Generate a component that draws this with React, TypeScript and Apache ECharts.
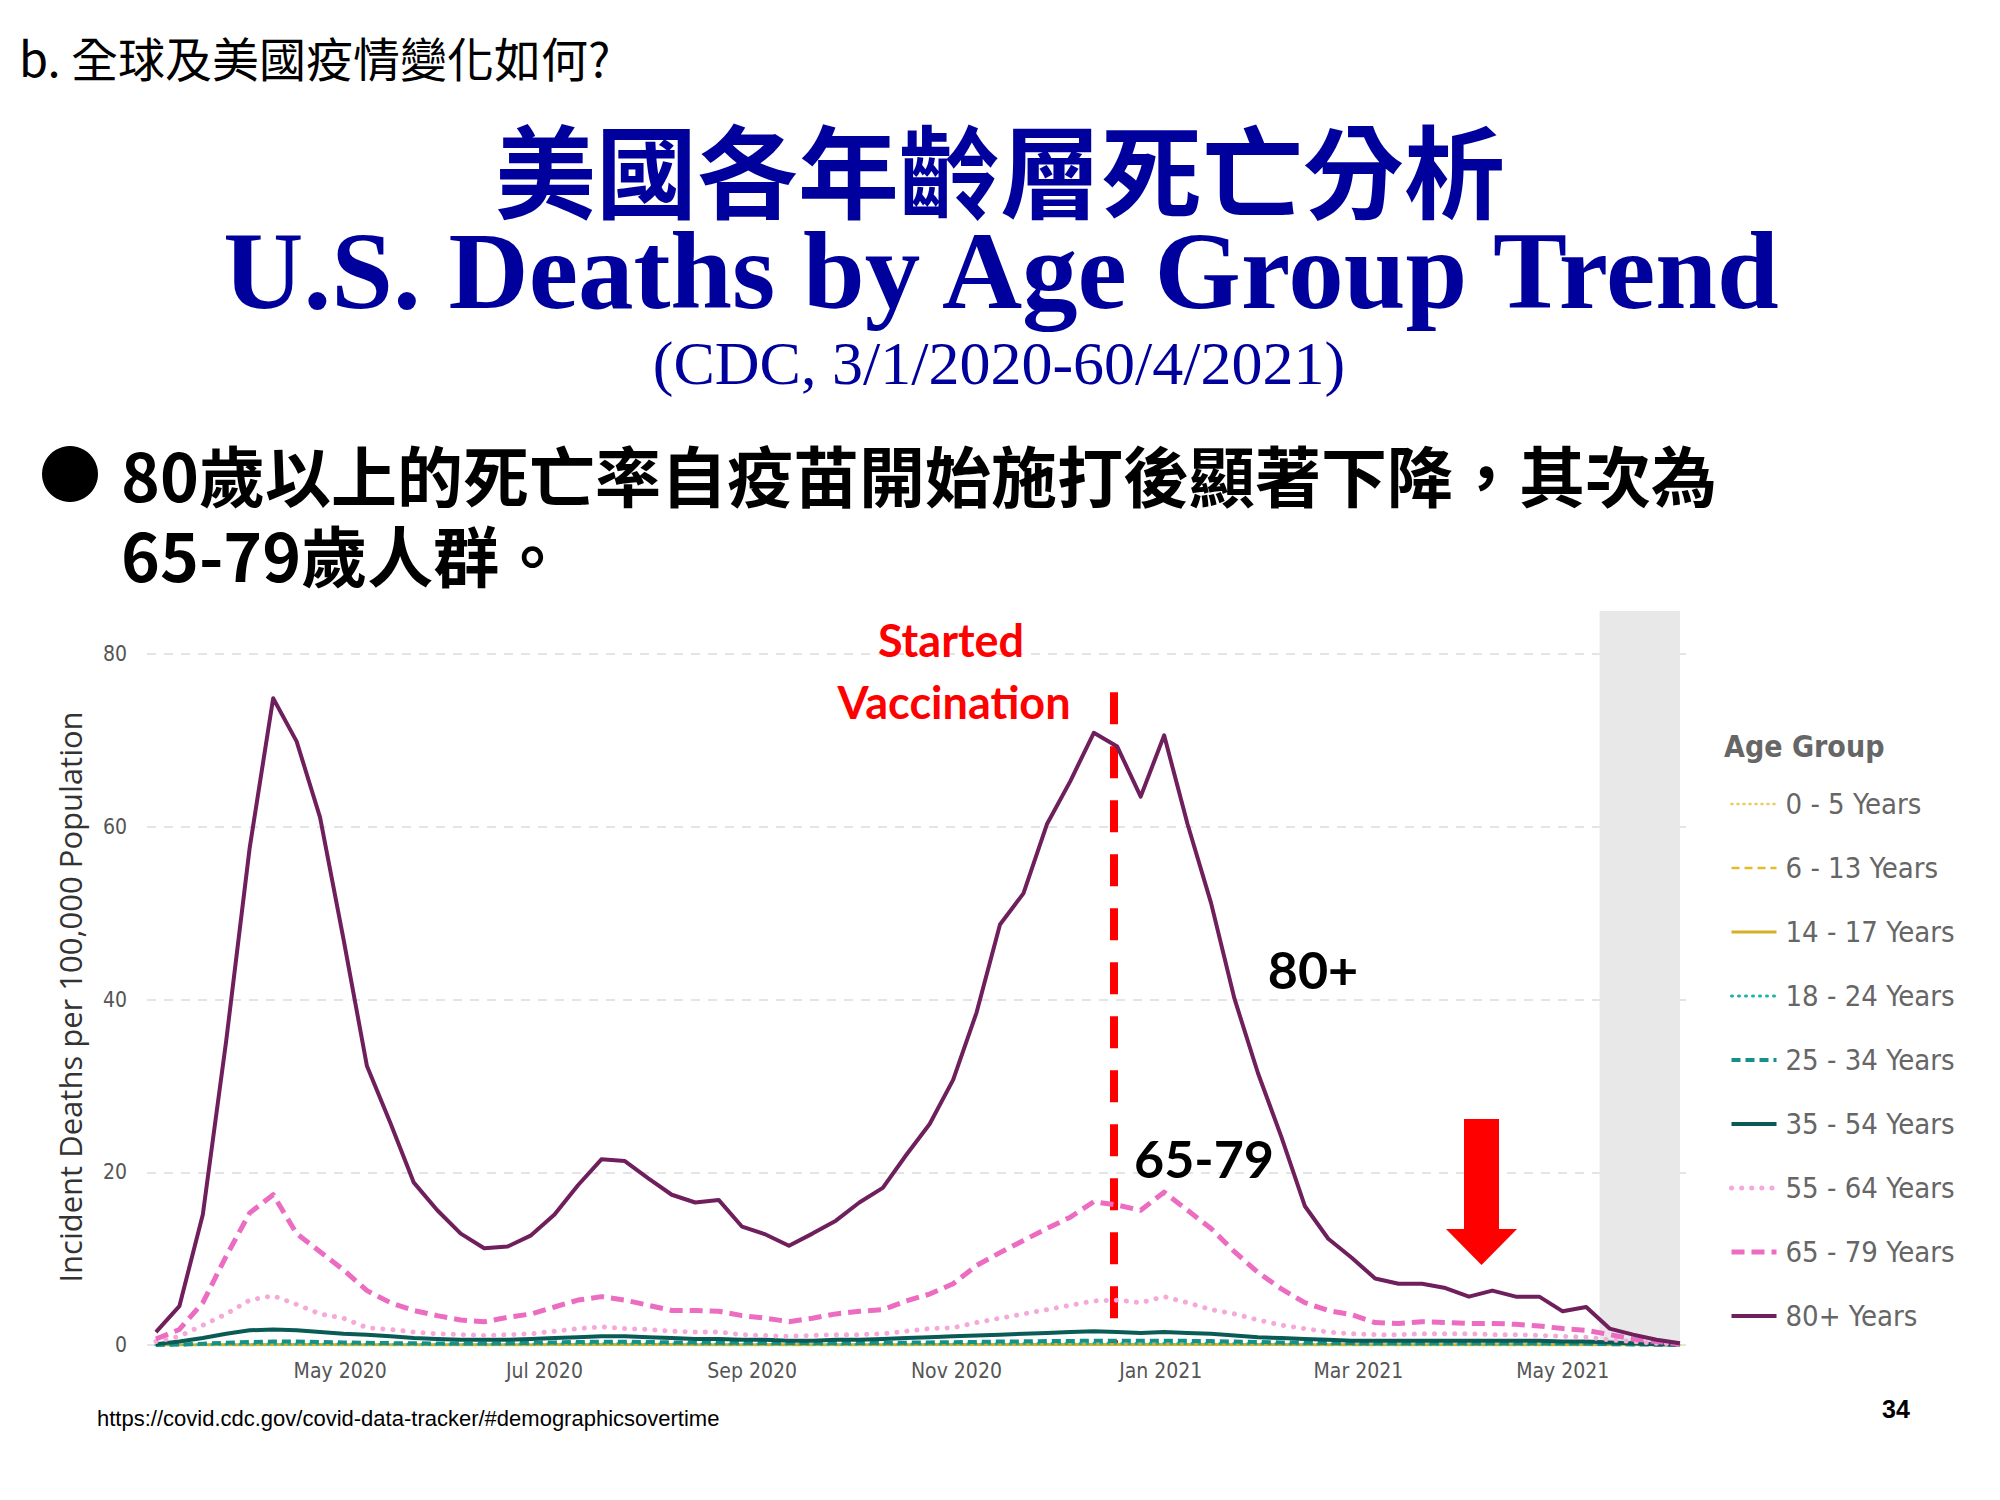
import React, { useEffect, useRef } from 'react';
import * as echarts from 'echarts';

// Weekly data points (week ending dates)
const weeks = [
  '2020-03-07', '2020-03-14', '2020-03-21', '2020-03-28', '2020-04-04', '2020-04-11', '2020-04-18', '2020-04-25',
  '2020-05-02', '2020-05-09', '2020-05-16', '2020-05-23', '2020-05-30', '2020-06-06', '2020-06-13', '2020-06-20',
  '2020-06-27', '2020-07-04', '2020-07-11', '2020-07-18', '2020-07-25', '2020-08-01', '2020-08-08', '2020-08-15',
  '2020-08-22', '2020-08-29', '2020-09-05', '2020-09-12', '2020-09-19', '2020-09-26', '2020-10-03', '2020-10-10',
  '2020-10-17', '2020-10-24', '2020-10-31', '2020-11-07', '2020-11-14', '2020-11-21', '2020-11-28', '2020-12-05',
  '2020-12-12', '2020-12-19', '2020-12-26', '2021-01-02', '2021-01-09', '2021-01-16', '2021-01-23', '2021-01-30',
  '2021-02-06', '2021-02-13', '2021-02-20', '2021-02-27', '2021-03-06', '2021-03-13', '2021-03-20', '2021-03-27',
  '2021-04-03', '2021-04-10', '2021-04-17', '2021-04-24', '2021-05-01', '2021-05-08', '2021-05-15', '2021-05-22',
  '2021-05-29', '2021-06-05',
];

const ageGroups = [
  '0 - 5 Years', '6 - 13 Years', '14 - 17 Years', '18 - 24 Years', '25 - 34 Years',
  '35 - 54 Years', '55 - 64 Years', '65 - 79 Years', '80+ Years',
];

const age0to5 = [
  0.0, 0.01, 0.01, 0.02, 0.02, 0.02, 0.02, 0.02, 0.02, 0.02, 0.01, 0.01, 0.01, 0.01, 0.01, 0.01,
  0.01, 0.02, 0.02, 0.02, 0.02, 0.02, 0.02, 0.02, 0.02, 0.01, 0.01, 0.01, 0.01, 0.01, 0.01, 0.01,
  0.02, 0.02, 0.02, 0.02, 0.02, 0.02, 0.02, 0.03, 0.03, 0.03, 0.03, 0.03, 0.03, 0.02, 0.02, 0.02,
  0.02, 0.02, 0.02, 0.02, 0.02, 0.02, 0.02, 0.02, 0.02, 0.02, 0.02, 0.02, 0.01, 0.01, 0.01, 0.01,
  0.0, 0.0,
];
const age6to13 = [
  0.0, 0.0, 0.01, 0.01, 0.01, 0.01, 0.01, 0.01, 0.01, 0.01, 0.01, 0.01, 0.01, 0.01, 0.01, 0.01,
  0.01, 0.01, 0.01, 0.01, 0.01, 0.01, 0.01, 0.01, 0.01, 0.01, 0.01, 0.01, 0.01, 0.01, 0.01, 0.01,
  0.01, 0.01, 0.01, 0.01, 0.01, 0.02, 0.02, 0.02, 0.02, 0.02, 0.02, 0.02, 0.02, 0.02, 0.02, 0.01,
  0.01, 0.01, 0.01, 0.01, 0.01, 0.01, 0.01, 0.01, 0.01, 0.01, 0.01, 0.01, 0.01, 0.01, 0.0, 0.0,
  0.0, 0.0,
];
const age14to17 = [
  0.0, 0.01, 0.02, 0.03, 0.04, 0.05, 0.05, 0.05, 0.04, 0.04, 0.03, 0.03, 0.03, 0.03, 0.03, 0.04,
  0.04, 0.05, 0.05, 0.05, 0.05, 0.05, 0.05, 0.04, 0.04, 0.04, 0.04, 0.04, 0.04, 0.04, 0.04, 0.04,
  0.04, 0.05, 0.05, 0.05, 0.06, 0.06, 0.06, 0.07, 0.07, 0.07, 0.07, 0.07, 0.07, 0.06, 0.06, 0.05,
  0.05, 0.04, 0.04, 0.04, 0.04, 0.04, 0.04, 0.04, 0.04, 0.04, 0.04, 0.04, 0.03, 0.03, 0.02, 0.02,
  0.01, 0.01,
];
const age18to24 = [
  0.0, 0.02, 0.05, 0.08, 0.11, 0.13, 0.13, 0.12, 0.11, 0.1, 0.09, 0.08, 0.08, 0.08, 0.09, 0.1,
  0.12, 0.14, 0.15, 0.16, 0.16, 0.15, 0.14, 0.13, 0.12, 0.12, 0.11, 0.11, 0.1, 0.1, 0.1, 0.11,
  0.11, 0.12, 0.13, 0.14, 0.15, 0.16, 0.17, 0.18, 0.19, 0.19, 0.18, 0.19, 0.18, 0.17, 0.16, 0.14,
  0.13, 0.12, 0.11, 0.1, 0.1, 0.1, 0.1, 0.1, 0.1, 0.1, 0.1, 0.1, 0.09, 0.08, 0.06, 0.04,
  0.03, 0.01,
];
const age25to34 = [
  0.0, 0.05, 0.15, 0.25, 0.35, 0.4, 0.4, 0.35, 0.3, 0.25, 0.22, 0.2, 0.18, 0.17, 0.18, 0.2,
  0.25, 0.3, 0.35, 0.38, 0.38, 0.35, 0.3, 0.28, 0.27, 0.25, 0.23, 0.22, 0.22, 0.23, 0.24, 0.25,
  0.27, 0.3, 0.33, 0.36, 0.4, 0.42, 0.45, 0.47, 0.5, 0.5, 0.48, 0.5, 0.48, 0.45, 0.4, 0.35,
  0.3, 0.27, 0.24, 0.22, 0.2, 0.2, 0.2, 0.2, 0.2, 0.2, 0.2, 0.2, 0.17, 0.16, 0.1, 0.07,
  0.04, 0.02,
];
const age35to54 = [
  0.1, 0.4, 0.8, 1.3, 1.7, 1.8, 1.7, 1.5, 1.3, 1.2, 1.0, 0.8, 0.7, 0.6, 0.6, 0.6,
  0.7, 0.8, 0.9, 1.0, 1.0, 0.9, 0.8, 0.7, 0.7, 0.6, 0.6, 0.5, 0.5, 0.6, 0.6, 0.7,
  0.8, 0.9, 1.0, 1.1, 1.2, 1.3, 1.4, 1.5, 1.6, 1.5, 1.4, 1.5, 1.4, 1.3, 1.1, 0.9,
  0.8, 0.7, 0.6, 0.5, 0.5, 0.5, 0.5, 0.5, 0.5, 0.5, 0.5, 0.5, 0.4, 0.4, 0.3, 0.2,
  0.1, 0.05,
];
const age55to64 = [
  0.4, 1.0, 2.3, 3.6, 5.2, 5.7, 4.7, 3.6, 3.1, 2.0, 1.8, 1.5, 1.3, 1.2, 1.1, 1.2,
  1.3, 1.6, 1.9, 2.1, 1.9, 1.8, 1.6, 1.5, 1.5, 1.2, 1.1, 1.0, 1.1, 1.2, 1.2, 1.3,
  1.6, 1.9, 2.0, 2.6, 3.1, 3.6, 4.1, 4.6, 5.1, 5.2, 4.9, 5.6, 4.9, 4.1, 3.6, 2.9,
  2.3, 1.9, 1.5, 1.3, 1.2, 1.2, 1.3, 1.3, 1.3, 1.2, 1.2, 1.1, 1.0, 0.9, 0.6, 0.4,
  0.2, 0.1,
];
const age65to79 = [
  0.7, 1.8, 4.9, 10.3, 15.3, 17.4, 12.9, 10.8, 8.7, 6.3, 4.9, 4.0, 3.4, 2.9, 2.7, 3.2,
  3.6, 4.4, 5.2, 5.6, 5.2, 4.6, 4.0, 4.0, 3.9, 3.4, 3.1, 2.7, 3.1, 3.6, 3.9, 4.1,
  5.1, 5.9, 7.1, 9.2, 10.7, 12.1, 13.5, 14.8, 16.6, 16.2, 15.6, 17.7, 15.6, 13.5, 10.8, 8.4,
  6.5, 4.9, 4.0, 3.5, 2.6, 2.5, 2.7, 2.6, 2.5, 2.5, 2.4, 2.2, 1.9, 1.7, 1.2, 0.7,
  0.4, 0.1,
];
const age80plus = [
  1.5, 4.5, 15.1, 35.3, 57.6, 74.9, 69.9, 61.1, 47.0, 32.3, 25.7, 18.8, 15.6, 12.9, 11.2, 11.4,
  12.7, 15.1, 18.5, 21.5, 21.3, 19.3, 17.4, 16.5, 16.8, 13.7, 12.8, 11.5, 12.9, 14.4, 16.5, 18.2,
  22.0, 25.6, 30.7, 38.5, 48.7, 52.3, 60.3, 65.3, 70.9, 69.3, 63.5, 70.6, 60.3, 51.2, 40.1, 31.5,
  24.1, 16.1, 12.3, 10.1, 7.7, 7.1, 7.1, 6.6, 5.6, 6.3, 5.6, 5.6, 3.9, 4.4, 1.9, 1.2,
  0.6, 0.2,
];

const yTicks = [0, 20, 40, 60, 80];
const monthNames = ['Jan', 'Feb', 'Mar', 'Apr', 'May', 'Jun', 'Jul', 'Aug', 'Sep', 'Oct', 'Nov', 'Dec'];
const xRange = ['2020-03-04T08:00:00', '2021-06-08'];
const vaccinationDate = '2020-12-18';
const vaccinationTop = 75.6;
const incompleteRange = ['2021-05-12', '2021-06-05'];

const NARROW = '"Liberation Sans Narrow", "DejaVu Sans Condensed", "Roboto", sans-serif';
const CJK = '"Noto Sans CJK TC", "Noto Sans CJK SC", sans-serif';
const SERIF = '"Liberation Serif", "DejaVu Serif", serif';

const seriesStyles = [
  { color: '#e8cc58', width: 2.5, type: [1, 5], cap: 'round' },
  { color: '#e3bc2c', width: 2.5, type: [8, 5], cap: 'butt' },
  { color: '#d6b024', width: 3, type: 'solid', cap: 'butt' },
  { color: '#1fb0a6', width: 3, type: [1, 6], cap: 'round' },
  { color: '#15918a', width: 4, type: [9, 5], cap: 'butt' },
  { color: '#0a5a55', width: 4, type: 'solid', cap: 'butt' },
  { color: '#f4a9d8', width: 5, type: [0.1, 10], cap: 'round' },
  { color: '#ec6cc1', width: 5, type: [13, 7], cap: 'butt' },
  { color: '#6e1f5c', width: 4, type: 'solid', cap: 'butt' },
];

const seriesValues = [age0to5, age6to13, age14to17, age18to24, age25to34, age35to54, age55to64, age65to79, age80plus];

export default function App() {
  const ref = useRef<HTMLDivElement>(null);

  useEffect(() => {
    if (!ref.current) return;
    const chart = echarts.init(ref.current, null, { renderer: 'svg' });

    const lineSeries: any[] = ageGroups.map((name, si) => {
      const st = seriesStyles[si];
      const s: any = {
        name,
        type: 'line',
        symbol: 'none',
        z: 5 + si,
        data: weeks.map((w, i) => [w, seriesValues[si][i]]),
        lineStyle: { color: st.color, width: st.width, type: st.type, cap: st.cap, join: 'round' },
        itemStyle: { color: st.color },
        emphasis: { disabled: true },
      };
      if (si === ageGroups.length - 1) {
        s.markLine = {
          silent: true,
          symbol: 'none',
          label: { show: false },
          lineStyle: { color: '#ff0000', width: 8, type: [32, 22], cap: 'butt' },
          data: [[{ coord: [vaccinationDate, vaccinationTop] }, { coord: [vaccinationDate, 0] }]],
        };
      }
      return s;
    });

    const option: any = {
      animation: false,
      backgroundColor: '#ffffff',
      grid: { left: 147, right: 310, top: 611, bottom: 155, containLabel: false },
      xAxis: {
        type: 'time',
        min: xRange[0],
        max: xRange[1],
        splitNumber: 8,
        axisLine: { show: false },
        axisTick: { show: false },
        splitLine: { show: false },
        minorTick: { show: false },
        axisLabel: {
          color: '#555555',
          fontFamily: NARROW,
          fontSize: 21,
          margin: 15,
          showMinLabel: false,
          showMaxLabel: false,
          hideOverlap: false,
          formatter: (val: number) => {
            const d = new Date(val);
            if (d.getDate() !== 1 || d.getMonth() % 2 !== 0) return '';
            return monthNames[d.getMonth()] + ' ' + d.getFullYear();
          },
        },
      },
      yAxis: {
        type: 'value',
        min: yTicks[0],
        max: 85,
        interval: yTicks[1] - yTicks[0],
        axisLine: { show: false },
        axisTick: { show: false },
        axisLabel: {
          color: '#555555',
          fontFamily: NARROW,
          fontSize: 21,
          margin: 20,
          showMaxLabel: false,
        },
        splitLine: {
          show: true,
          showMaxLine: false,
          lineStyle: { color: '#e4e4e4', width: 2, type: [9, 8] },
        },
      },
      legend: {
        orient: 'vertical',
        left: 1724,
        top: 782,
        itemWidth: 45,
        itemHeight: 20,
        itemGap: 30,
        data: ageGroups,
        selectedMode: false,
        itemStyle: { opacity: 0, borderWidth: 0 },
        lineStyle: { width: 'inherit' },
        textStyle: {
          color: '#666666',
          fontFamily: NARROW,
          fontSize: 29,
          lineHeight: 34,
          padding: [0, 0, 0, 4],
        },
      },
      graphic: [
        {
          type: 'text', x: 19, y: 56,
          style: { text: 'b. 全球及美國疫情變化如何?', fill: '#000000', fontFamily: CJK, fontSize: 47, lineHeight: 50, align: 'left', verticalAlign: 'middle' },
        },
        {
          type: 'text', x: 1000, y: 167,
          style: { text: '美國各年齡層死亡分析', fill: '#00009c', fontFamily: CJK, fontWeight: 'bold', fontSize: 101, lineHeight: 88, align: 'center', verticalAlign: 'middle' },
        },
        {
          type: 'text', x: 1001, y: 270,
          style: { text: 'U.S. Deaths by Age Group Trend', fill: '#00009c', fontFamily: SERIF, fontWeight: 'bold', fontSize: 111, lineHeight: 96, align: 'center', verticalAlign: 'middle' },
        },
        {
          type: 'text', x: 999, y: 363,
          style: { text: '(CDC, 3/1/2020-60/4/2021)', fill: '#00009c', fontFamily: SERIF, fontSize: 62, lineHeight: 60, align: 'center', verticalAlign: 'middle' },
        },
        { type: 'circle', shape: { cx: 70, cy: 474, r: 28 }, style: { fill: '#000000' } },
        {
          type: 'text', x: 121, y: 513,
          style: {
            text: '80歲以上的死亡率自疫苗開始施打後顯著下降，其次為\n65-79歲人群。',
            fill: '#000000', fontFamily: CJK, fontWeight: 'bold', fontSize: 66, lineHeight: 80,
            align: 'left', verticalAlign: 'middle',
          },
        },
        {
          type: 'text', x: 70, y: 997, rotation: Math.PI / 2,
          style: { text: 'Incident Deaths per 100,000 Population', fill: '#333333', fontFamily: '"Open Sans", "Noto Sans", sans-serif', fontSize: 31, align: 'center', verticalAlign: 'middle' },
        },
        {
          type: 'text', x: 951, y: 640, z: 50,
          style: { text: 'Started', fill: '#ff0000', fontFamily: 'Lato, "Open Sans", sans-serif', fontWeight: 'bold', fontSize: 45, lineHeight: 46, align: 'center', verticalAlign: 'middle' },
        },
        {
          type: 'text', x: 954, y: 702, z: 50,
          style: { text: 'Vaccination', fill: '#ff0000', fontFamily: 'Lato, "Open Sans", sans-serif', fontWeight: 'bold', fontSize: 45, lineHeight: 46, align: 'center', verticalAlign: 'middle' },
        },
        {
          type: 'text', x: 1313, y: 969, z: 50,
          style: { text: '80+', fill: '#000000', fontFamily: 'Lato, "Open Sans", sans-serif', fontWeight: 'bold', fontSize: 52, align: 'center', verticalAlign: 'middle' },
        },
        {
          type: 'text', x: 1204, y: 1158, z: 50,
          style: { text: '65-79', fill: '#000000', fontFamily: 'Lato, "Open Sans", sans-serif', fontWeight: 'bold', fontSize: 52, align: 'center', verticalAlign: 'middle' },
        },
        {
          type: 'polygon', z: 50,
          shape: { points: [[1464, 1119], [1499, 1119], [1499, 1229], [1517, 1229], [1481.5, 1265], [1446, 1229], [1464, 1229]] },
          style: { fill: '#ff0000' },
        },
        {
          type: 'text', x: 1724, y: 746,
          style: { text: 'Age Group', fill: '#666666', fontFamily: NARROW, fontWeight: 'bold', fontSize: 30, align: 'left', verticalAlign: 'middle' },
        },
        {
          type: 'text', x: 97, y: 1418,
          style: { text: 'https://covid.cdc.gov/covid-data-tracker/#demographicsovertime', fill: '#000000', fontFamily: '"Liberation Sans", Arial, sans-serif', fontSize: 22, align: 'left', verticalAlign: 'middle' },
        },
        {
          type: 'text', x: 1896, y: 1409,
          style: { text: '34', fill: '#000000', fontFamily: '"Liberation Sans", Arial, sans-serif', fontWeight: 'bold', fontSize: 25, align: 'center', verticalAlign: 'middle' },
        },
      ],
      series: [
        {
          type: 'line',
          data: [],
          z: 1,
          silent: true,
          markArea: {
            silent: true,
            itemStyle: { color: '#e8e8e8' },
            data: [[{ xAxis: incompleteRange[0] }, { xAxis: incompleteRange[1] }]],
          },
        },
        ...lineSeries,
      ],
    };

    chart.setOption(option);
    return () => chart.dispose();
  }, []);

  return (
    <div
      ref={ref}
      style={{ position: 'absolute', left: 0, top: 0, width: 2000, height: 1500, background: '#ffffff' }}
    />
  );
}
